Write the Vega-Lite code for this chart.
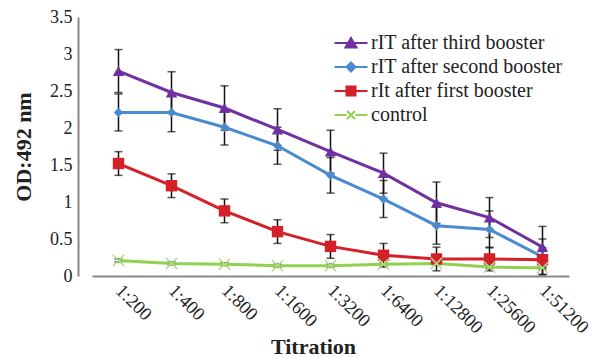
{
  "$schema": "https://vega.github.io/schema/vega-lite/v6.json",
  "width": 477,
  "height": 259,
  "autosize": "none",
  "padding": {"left": 92, "top": 17, "right": 25, "bottom": 82},
  "config": {
    "view": {"stroke": null},
    "font": "Liberation Serif",
    "axis": {"labelFont": "Liberation Serif", "titleFont": "Liberation Serif", "labelColor": "#222", "titleColor": "#222"},
    "legend": {"labelFont": "Liberation Serif"}
  },
  "data": {
    "values": [
      {"series": "rIT after third booster", "titration": "1:200", "od": 2.77, "lo": 2.48, "hi": 3.06},
      {"series": "rIT after third booster", "titration": "1:400", "od": 2.48, "lo": 2.20, "hi": 2.76},
      {"series": "rIT after third booster", "titration": "1:800", "od": 2.27, "lo": 1.97, "hi": 2.57},
      {"series": "rIT after third booster", "titration": "1:1600", "od": 1.98, "lo": 1.70, "hi": 2.26},
      {"series": "rIT after third booster", "titration": "1:3200", "od": 1.68, "lo": 1.39, "hi": 1.97},
      {"series": "rIT after third booster", "titration": "1:6400", "od": 1.39, "lo": 1.12, "hi": 1.66},
      {"series": "rIT after third booster", "titration": "1:12800", "od": 0.99, "lo": 0.71, "hi": 1.27},
      {"series": "rIT after third booster", "titration": "1:25600", "od": 0.79, "lo": 0.52, "hi": 1.06},
      {"series": "rIT after third booster", "titration": "1:51200", "od": 0.39, "lo": 0.11, "hi": 0.67},
      {"series": "rIT after second booster", "titration": "1:200", "od": 2.21, "lo": 1.96, "hi": 2.46},
      {"series": "rIT after second booster", "titration": "1:400", "od": 2.21, "lo": 1.95, "hi": 2.47},
      {"series": "rIT after second booster", "titration": "1:800", "od": 2.01, "lo": 1.77, "hi": 2.25},
      {"series": "rIT after second booster", "titration": "1:1600", "od": 1.76, "lo": 1.51, "hi": 2.01},
      {"series": "rIT after second booster", "titration": "1:3200", "od": 1.36, "lo": 1.12, "hi": 1.60},
      {"series": "rIT after second booster", "titration": "1:6400", "od": 1.04, "lo": 0.79, "hi": 1.29},
      {"series": "rIT after second booster", "titration": "1:12800", "od": 0.68, "lo": 0.43, "hi": 0.93},
      {"series": "rIT after second booster", "titration": "1:25600", "od": 0.63, "lo": 0.38, "hi": 0.88},
      {"series": "rIT after second booster", "titration": "1:51200", "od": 0.26, "lo": 0.02, "hi": 0.50},
      {"series": "rIt after first booster", "titration": "1:200", "od": 1.52, "lo": 1.36, "hi": 1.68},
      {"series": "rIt after first booster", "titration": "1:400", "od": 1.22, "lo": 1.06, "hi": 1.38},
      {"series": "rIt after first booster", "titration": "1:800", "od": 0.88, "lo": 0.72, "hi": 1.04},
      {"series": "rIt after first booster", "titration": "1:1600", "od": 0.60, "lo": 0.44, "hi": 0.76},
      {"series": "rIt after first booster", "titration": "1:3200", "od": 0.40, "lo": 0.24, "hi": 0.56},
      {"series": "rIt after first booster", "titration": "1:6400", "od": 0.28, "lo": 0.12, "hi": 0.44},
      {"series": "rIt after first booster", "titration": "1:12800", "od": 0.23, "lo": 0.07, "hi": 0.39},
      {"series": "rIt after first booster", "titration": "1:25600", "od": 0.23, "lo": 0.07, "hi": 0.39},
      {"series": "rIt after first booster", "titration": "1:51200", "od": 0.22, "lo": 0.02, "hi": 0.38},
      {"series": "control", "titration": "1:200", "od": 0.21, "lo": 0.19, "hi": 0.23},
      {"series": "control", "titration": "1:400", "od": 0.17, "lo": 0.15, "hi": 0.19},
      {"series": "control", "titration": "1:800", "od": 0.16, "lo": 0.14, "hi": 0.18},
      {"series": "control", "titration": "1:1600", "od": 0.14, "lo": 0.12, "hi": 0.16},
      {"series": "control", "titration": "1:3200", "od": 0.14, "lo": 0.12, "hi": 0.16},
      {"series": "control", "titration": "1:6400", "od": 0.16, "lo": 0.14, "hi": 0.18},
      {"series": "control", "titration": "1:12800", "od": 0.17, "lo": 0.15, "hi": 0.19},
      {"series": "control", "titration": "1:25600", "od": 0.12, "lo": 0.10, "hi": 0.14},
      {"series": "control", "titration": "1:51200", "od": 0.11, "lo": 0.09, "hi": 0.13}
    ]
  },
  "encoding": {
    "x": {
      "field": "titration",
      "type": "ordinal",
      "sort": ["1:200", "1:400", "1:800", "1:1600", "1:3200", "1:6400", "1:12800", "1:25600", "1:51200"],
      "scale": {"type": "point", "padding": 0.5},
      "axis": {
        "title": "Titration",
        "titleFont": "Liberation Serif",
        "titleFontSize": 22,
        "titleFontWeight": "bold",
        "titleX": 221,
        "titleY": 77,
        "titleBaseline": "alphabetic",
        "titleAlign": "center",
        "labelFont": "Liberation Serif",
        "labelAngle": 45,
        "labelAlign": "left",
        "labelBaseline": "middle",
        "labelFontSize": 18.5,
        "labelPadding": 11,
        "labelOverlap": false,
        "ticks": false,
        "domainColor": "#888",
        "domainWidth": 2,
        "grid": false
      }
    },
    "y": {
      "field": "od",
      "type": "quantitative",
      "scale": {"domain": [0, 3.5], "nice": false},
      "axis": {
        "title": "OD:492 nm",
        "titleFont": "Liberation Serif",
        "titleFontSize": 22,
        "titleFontWeight": "bold",
        "titlePadding": 14,
        "values": [0, 0.5, 1, 1.5, 2, 2.5, 3, 3.5],
        "labelExpr": "format(datum.value, '.1~f')",
        "labelOverlap": false,
        "labelFlush": false,
        "labelFont": "Liberation Serif",
        "labelFontSize": 18,
        "labelPadding": 6,
        "offset": 14,
        "ticks": false,
        "grid": false,
        "domainColor": "#888",
        "domainWidth": 2
      }
    }
  },
  "layer": [
    {
      "mark": {"type": "rule", "color": "#111", "strokeWidth": 1.5},
      "encoding": {
        "y": {"field": "lo", "type": "quantitative"},
        "y2": {"field": "hi"}
      }
    },
    {
      "mark": {"type": "tick", "color": "#111", "thickness": 1.5, "size": 8},
      "encoding": {"y": {"field": "lo", "type": "quantitative"}}
    },
    {
      "mark": {"type": "tick", "color": "#111", "thickness": 1.5, "size": 8},
      "encoding": {"y": {"field": "hi", "type": "quantitative"}}
    },
    {
      "mark": {"type": "line", "strokeWidth": 3},
      "encoding": {
        "color": {
          "field": "series",
          "type": "nominal",
          "scale": {
            "domain": ["rIT after third booster", "rIT after second booster", "rIt after first booster", "control"],
            "range": ["#7030A0", "#4A8BD0", "#D42027", "#92D050"]
          },
          "legend": {
            "title": null,
            "orient": "none",
            "legendX": 248,
            "legendY": 15,
            "labelFont": "Liberation Serif",
            "labelFontSize": 20,
            "labelColor": "#222",
            "labelLimit": 400,
            "symbolSize": 400,
            "symbolType": "M-1.65,0H1.65",
            "labelOffset": 9,
            "rowPadding": 3,
            "encode": {
              "symbols": {
                "update": {
                  "shape": {"signal": "datum.value === 'control' ? 'M-1.65,0H-0.45M0.45,0H1.65M-0.4,-0.4L0.4,0.4M-0.4,0.4L0.4,-0.4' : datum.value === 'rIt after first booster' ? 'M-1.65,0H1.65M-0.45,-0.45H0.45V0.45H-0.45Z' : datum.value === 'rIT after second booster' ? 'M-1.65,0H1.65M0,-0.45L0.45,0L0,0.45L-0.45,0Z' : 'M-1.65,0H1.65M0,-0.5L0.55,0.45L-0.55,0.45Z'"},
                  "fill": {"scale": "color", "field": "value"},
                  "stroke": {"scale": "color", "field": "value"},
                  "strokeWidth": {"value": 2},
                  "opacity": {"value": 1}
                }
              }
            }
          }
        }
      }
    },
    {
      "transform": [{"filter": "datum.series === 'rIT after third booster'"}],
      "mark": {"type": "point", "filled": true, "size": 130, "shape": "triangle-up", "opacity": 1},
      "encoding": {
        "color": {"field": "series", "type": "nominal", "legend": null}
      }
    },
    {
      "transform": [{"filter": "datum.series === 'rIT after second booster'"}],
      "mark": {"type": "point", "filled": true, "size": 90, "shape": "diamond", "opacity": 1},
      "encoding": {
        "color": {"field": "series", "type": "nominal", "legend": null}
      }
    },
    {
      "transform": [{"filter": "datum.series === 'rIt after first booster'"}],
      "mark": {"type": "point", "filled": true, "size": 130, "shape": "square", "opacity": 1},
      "encoding": {
        "color": {"field": "series", "type": "nominal", "legend": null}
      }
    },
    {
      "transform": [{"filter": "datum.series === 'control'"}],
      "mark": {"type": "point", "filled": false, "size": 130, "shape": "M-1,-1L1,1M-1,1L1,-1", "strokeWidth": 1.5, "color": "#b5dc8c", "opacity": 1},
      "encoding": {}
    }
  ]
}
